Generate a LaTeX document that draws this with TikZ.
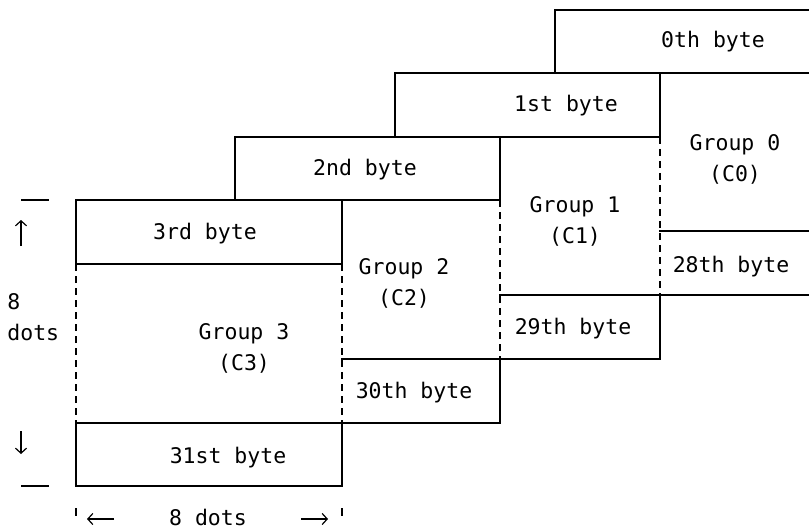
\documentclass[tikz,border=0pt]{standalone}
\usepackage{fontspec}
\setmonofont{DejaVu Sans Mono}
\usetikzlibrary{arrows.meta}

\begin{document}
\begin{tikzpicture}[x=1pt,y=-1pt,line width=2.8pt,line cap=rect,
    seam/.style={line cap=butt,dash pattern=on 7pt off 5pt},
    dimarrow/.style={line width=1.2pt,line cap=butt,-{Straight Barb[length=5pt,width=11pt]}},
    lbl/.style={font=\ttfamily\fontsize{21.5}{31}\selectfont,inner sep=0pt,align=center}]
    \useasboundingbox (0,0) rectangle (809,532);
    % byte boxes, top rows
    \draw (555,10)--(809,10);
    \draw (395,73)--(809,73);
    \draw (235,137)--(660,137);
    \draw (76,200)--(500,200);
    \draw (76,264)--(342,264);
    \draw (555,10)--(555,73);
    \draw (395,73)--(395,137);
    \draw (660,73)--(660,137);
    \draw (235,137)--(235,200);
    \draw (500,137)--(500,200);
    \draw (76,200)--(76,264);
    \draw (342,200)--(342,264);
    % byte boxes, bottom rows
    \draw (660,231)--(809,231);
    \draw (500,295)--(809,295);
    \draw (342,359)--(660,359);
    \draw (76,423)--(500,423);
    \draw (76,486)--(342,486);
    \draw (660,295)--(660,359);
    \draw (500,359)--(500,423);
    \draw (76,423)--(76,486);
    \draw (342,423)--(342,486);
    % group sides
    \draw [seam](660,137)--(660,295);
    \draw [seam](500,200)--(500,359);
    \draw [seam](342,264)--(342,423);
    \draw [seam](76,264)--(76,423);
    % dimensions
    \draw (22,200)--(48,200);
    \draw (22,486)--(48,486);
    \draw [line cap=butt](76,508)--(76,516);
    \draw [line cap=butt](342,508)--(342,516);
    \coordinate (upfoot) at (21,246);
    \coordinate (uptip) at (21,220);
    \coordinate (downfoot) at (21,431);
    \coordinate (downtip) at (21,454);
    \coordinate (leftfoot) at (114,519);
    \coordinate (lefttip) at (87,519);
    \coordinate (rightfoot) at (301,519);
    \coordinate (righttip) at (328,519);
    \draw [dimarrow](upfoot)--(uptip);
    \draw [dimarrow](downfoot)--(downtip);
    \draw [dimarrow](leftfoot)--(lefttip);
    \draw [dimarrow](rightfoot)--(righttip);
    \node [lbl,anchor=west,align=left] (vdots) at (6,317) {8\\dots};
    \node [lbl] (hdots) at (208,517) {8 dots};
    % labels
    \node [lbl] (b0) at (713,42) {0th byte};
    \node [lbl] (b1) at (566,106) {1st byte};
    \node [lbl] (b2) at (365,170) {2nd byte};
    \node [lbl] (b3) at (205,234) {3rd byte};
    \node [lbl] (b28) at (731,267) {28th byte};
    \node [lbl] (b29) at (573,329) {29th byte};
    \node [lbl] (b30) at (414,393) {30th byte};
    \node [lbl] (b31) at (228,458) {31st byte};
    \node [lbl] (g0) at (735,159) {Group 0\\(C0)};
    \node [lbl] (g1) at (575,221) {Group 1\\(C1)};
    \node [lbl] (g2) at (404,283) {Group 2\\(C2)};
    \node [lbl] (g3) at (244,348) {Group 3\\(C3)};
\end{tikzpicture}
\end{document}
